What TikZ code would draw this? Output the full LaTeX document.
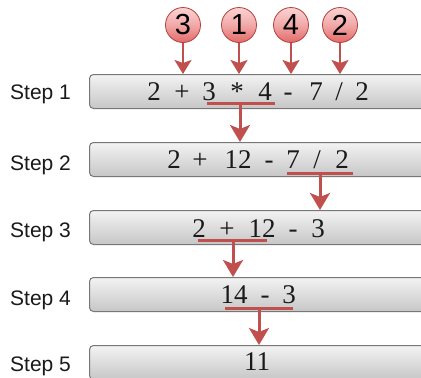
\documentclass[tikz,border=0pt]{standalone}
\usepackage{fontspec}
\setmainfont{Liberation Serif}
\setsansfont{Liberation Sans}
\usetikzlibrary{arrows.meta,shadings}
\definecolor{myred}{HTML}{C0504D}
\definecolor{ballrim}{HTML}{B2403C}
\definecolor{ballin}{HTML}{FBD3D3}
\definecolor{ballout}{HTML}{E26A68}
\definecolor{boxtop}{HTML}{F3F3F3}
\definecolor{boxbot}{HTML}{C6C6C6}
\definecolor{boxrim}{HTML}{777777}
\definecolor{txt}{HTML}{1A1A1A}
\tikzset{
  stepbox/.style={draw=boxrim, line width=1pt, rounded corners=4pt,
    top color=boxtop, bottom color=boxbot, minimum width=337pt,
    minimum height=34pt, anchor=north west, inner sep=0pt},
  steplabel/.style={font=\sffamily\fontsize{21}{21}\selectfont, anchor=base west,
    inner sep=0pt, text=txt},
  tok/.style={font=\fontsize{27}{27}\selectfont, anchor=base, inner sep=0pt, text=txt},
  ball/.style={circle, minimum size=35pt, inner sep=0pt, draw=ballrim, line width=0.8pt,
    top color=ballin, bottom color=ballout, middle color=ballin!60!ballout,
    font=\sffamily\fontsize{29}{29}\selectfont, text=black},
  redline/.style={draw=myred, line width=3pt},
  redarrow/.style={draw=myred, line width=3pt,
    -{Stealth[length=17pt,width=20pt,inset=4pt]}},
  thinarrow/.style={draw=myred, line width=2pt,
    -{Stealth[length=14pt,width=17pt,inset=3pt]}}
}
\begin{document}
\begin{tikzpicture}[x=1pt,y=-1pt]
\useasboundingbox (0,0) rectangle (421,378);
\clip (0,0) rectangle (421,378);

% boxes
\node[stepbox] (b1) at (89,74) {};
\node[stepbox] (b2) at (89,142) {};
\node[stepbox] (b3) at (89,210) {};
\node[stepbox] (b4) at (89,277) {};
\node[stepbox] (b5) at (89,345) {};

% labels
\node[steplabel] (l1) at (10,99) {Step 1};
\node[steplabel] (l2) at (10,170) {Step 2};
\node[steplabel] (l3) at (10,237) {Step 3};
\node[steplabel] (l4) at (10,305) {Step 4};
\node[steplabel] (l5) at (10,371) {Step 5};

% row 1
\node[tok] (r1a) at (154,100) {2};
\node[tok] (r1b) at (182,100) {+};
\node[tok] (r1c) at (209,100) {3};
\node[tok] (r1d) at (237,100) {*};
\node[tok] (r1e) at (265,100) {4};
\node[tok] (r1f) at (288,100) {-};
\node[tok] (r1g) at (316,100) {7};
\node[tok] (r1h) at (339,100) {/};
\node[tok] (r1i) at (362,100) {2};

% row 2
\node[tok] (r2a) at (174,168) {2};
\node[tok] (r2b) at (200,168) {+};
\node[tok] (r2c) at (238,168) {12};
\node[tok] (r2d) at (269,168) {-};
\node[tok] (r2e) at (293,168) {7};
\node[tok] (r2f) at (317,168) {/};
\node[tok] (r2g) at (342,168) {2};

% row 3
\node[tok] (r3a) at (199,237) {2};
\node[tok] (r3b) at (227,237) {+};
\node[tok] (r3c) at (262,237) {12};
\node[tok] (r3d) at (293,237) {-};
\node[tok] (r3e) at (318,237) {3};

% row 4
\node[tok] (r4a) at (234,303) {14};
\node[tok] (r4b) at (265,303) {-};
\node[tok] (r4c) at (289,303) {3};

% row 5
\node[tok] (r5a) at (257,370) {11};

% priority balls
\node[ball] (c3) at (183,25) {3};
\node[ball] (c1) at (239,25) {1};
\node[ball] (c4) at (291,25) {4};
\node[ball] (c2) at (340,25) {2};
\draw[thinarrow] (c3.south) -- (c3 |- b1.north);
\draw[thinarrow] (c1.south) -- (c1 |- b1.north);
\draw[thinarrow] (c4.south) -- (c4 |- b1.north);
\draw[thinarrow] (c2.south) -- (c2 |- b1.north);

% underlines and arrows
\coordinate (u1l) at (207,103); \coordinate (u1r) at (275,103);
\coordinate (u1) at (240,103);
\draw[redline] (u1l) -- (u1r);
\draw[redarrow] (u1) -- (u1 |- b2.north);

\coordinate (u2l) at (287,173); \coordinate (u2r) at (353,173);
\coordinate (u2) at (320,173);
\draw[redline] (u2l) -- (u2r);
\draw[redarrow] (u2) -- (u2 |- b3.north);

\coordinate (u3l) at (198,240); \coordinate (u3r) at (267,240);
\coordinate (u3) at (233,240);
\draw[redline] (u3l) -- (u3r);
\draw[redarrow] (u3) -- (u3 |- b4.north);

\coordinate (u4l) at (225,308); \coordinate (u4r) at (293,308);
\coordinate (u4) at (259,308);
\draw[redline] (u4l) -- (u4r);
\draw[redarrow] (u4) -- (u4 |- b5.north);
\end{tikzpicture}
\end{document}
